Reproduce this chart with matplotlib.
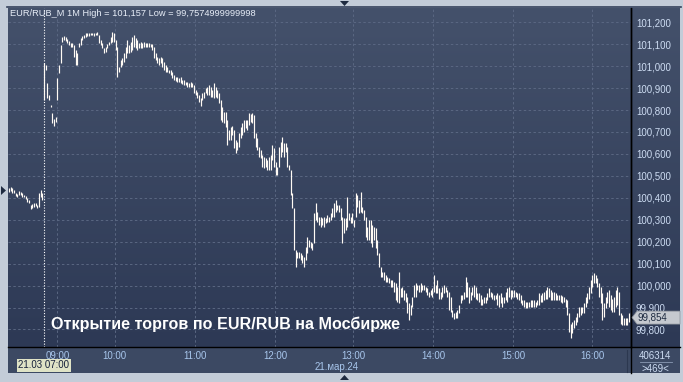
import numpy as np
import matplotlib
matplotlib.use('Agg')
import matplotlib.pyplot as plt
from matplotlib.patches import Polygon, Rectangle
from matplotlib.colors import LinearSegmentedColormap

# ===== DATA (1-minute bars, high / low) =====
high = [
    100.443, 100.451, 100.443, 100.435, 100.420, 100.417, 100.432, 100.428, 100.420, 100.413,
    100.408, 100.397, 100.390, 100.367, 100.372, 100.375, 100.378, 100.367, 100.420, 100.435,
    100.420, 101.013, 101.005, 100.922, 100.869, 100.823, 100.785, 100.758, 100.770, 100.945,
    101.005, 101.097, 101.135, 101.138, 101.135, 101.122, 101.116, 101.104, 101.104, 101.097,
    101.074, 101.059, 101.104, 101.127, 101.138, 101.142, 101.150, 101.150, 101.150, 101.150,
    101.153, 101.150, 101.153, 101.157, 101.142, 101.119, 101.104, 101.081, 101.089, 101.101,
    101.112, 101.135, 101.157, 101.150, 101.119, 101.089, 100.998, 101.028, 101.036, 101.059,
    101.089, 101.119, 101.097, 101.112, 101.135, 101.142, 101.127, 101.119, 101.104, 101.112,
    101.104, 101.112, 101.104, 101.104, 101.104, 101.101, 101.101, 101.089, 101.059, 101.043,
    101.036, 101.043, 101.036, 101.021, 101.005, 100.998, 100.983, 100.983, 100.975, 100.960,
    100.952, 100.952, 100.945, 100.952, 100.937, 100.937, 100.929, 100.929, 100.922, 100.929,
    100.925, 100.914, 100.891, 100.884, 100.869, 100.853, 100.876, 100.884, 100.899, 100.907,
    100.914, 100.907, 100.891, 100.922, 100.907, 100.891,
    100.876, 100.846, 100.815, 100.793, 100.793, 100.755, 100.709, 100.724, 100.727, 100.709,
    100.663, 100.656, 100.694, 100.724, 100.739, 100.755, 100.755, 100.755, 100.785, 100.782,
    100.785, 100.777, 100.694, 100.671, 100.633, 100.618, 100.595, 100.587, 100.580, 100.572,
    100.587, 100.595, 100.641, 100.625, 100.565, 100.542, 100.633, 100.656, 100.679, 100.651,
    100.648, 100.633, 100.549, 100.527, 100.420, 100.352, 100.162, 100.154, 100.154, 100.147,
    100.139, 100.131, 100.177, 100.223, 100.207, 100.200, 100.192, 100.329, 100.375, 100.337,
    100.314, 100.314, 100.306, 100.314, 100.306, 100.321, 100.314, 100.329, 100.352, 100.375,
    100.390, 100.367, 100.367, 100.352, 100.314, 100.306, 100.306, 100.405, 100.329, 100.314,
    100.329, 100.299, 100.420, 100.413, 100.390, 100.428, 100.359, 100.344, 100.314, 100.268,
    100.299, 100.299, 100.276, 100.268, 100.261, 100.207, 100.147, 100.086, 100.063, 100.063,
    100.048, 100.040, 100.033, 100.025, 100.025, 100.017, 100.010, 99.995, 100.063, 99.987,
    99.995, 99.979, 99.964, 99.949, 99.919, 99.911, 99.949, 100.002, 100.010, 100.002,
    100.002,
    100.010, 100.002, 100.002, 99.995, 99.987, 99.972, 99.979, 99.987, 100.048, 100.002,
    100.025, 99.987, 99.972, 99.995, 100.002, 99.995, 99.979, 99.972, 99.949, 99.888,
    99.873, 99.881, 99.888, 99.911, 99.957, 99.957, 99.972, 100.040, 100.017, 99.995,
    99.972, 99.995, 100.002, 99.995, 99.964, 99.964, 99.957, 99.941, 99.949, 99.949,
    99.964, 99.987, 99.972, 99.964, 99.957, 99.957, 99.964, 99.957, 99.964, 99.949,
    99.949, 99.972, 99.987, 99.995, 99.979, 99.979, 99.979, 99.972, 99.964, 99.964,
    99.957, 99.934, 99.934, 99.926, 99.926, 99.926, 99.934, 99.934, 99.934, 99.926,
    99.934, 99.964, 99.957, 99.964, 99.972, 99.979, 99.995, 99.987, 99.979, 99.972,
    99.972, 99.964, 99.957, 99.957, 99.957, 99.952, 99.949, 99.941, 99.934, 99.873,
    99.827, 99.835, 99.843, 99.858, 99.873, 99.903, 99.903, 99.903, 99.919, 99.949,
    99.964, 99.995, 100.025, 100.048, 100.055, 100.048, 100.033, 100.010, 99.995, 99.964,
    99.919, 99.949, 99.972, 99.979, 99.957, 99.941, 99.949, 99.979, 99.995, 99.972,
    99.873, 99.865, 99.850, 99.850, 99.850, 99.873, 99.881,
]
low = [
    100.428, 100.432, 100.423, 100.420, 100.408, 100.405, 100.413, 100.413, 100.405, 100.402,
    100.396, 100.382, 100.375, 100.350, 100.352, 100.359, 100.363, 100.352, 100.359, 100.405,
    100.390, 100.846, 100.983, 100.853, 100.846, 100.812, 100.739, 100.727, 100.747, 100.846,
    100.967, 101.013, 101.112, 101.119, 101.116, 101.104, 101.097, 101.089, 101.089, 101.043,
    101.005, 101.005, 101.089, 101.097, 101.119, 101.127, 101.135, 101.138, 101.138, 101.141,
    101.141, 101.138, 101.142, 101.142, 101.104, 101.097, 101.081, 101.059, 101.066, 101.081,
    101.097, 101.104, 101.112, 101.112, 101.074, 100.952, 100.975, 100.998, 101.005, 101.021,
    101.036, 101.059, 101.059, 101.066, 101.074, 101.089, 101.081, 101.074, 101.081, 101.081,
    101.081, 101.089, 101.089, 101.089, 101.089, 101.089, 101.074, 101.036, 101.028, 101.013,
    101.005, 101.013, 100.998, 100.983, 100.975, 100.975, 100.967, 100.960, 100.945, 100.937,
    100.934, 100.929, 100.929, 100.922, 100.919, 100.914, 100.914, 100.907, 100.907, 100.907,
    100.907, 100.876, 100.869, 100.853, 100.838, 100.818, 100.846, 100.853, 100.876, 100.869,
    100.869, 100.861, 100.861, 100.853, 100.861, 100.853,
    100.831, 100.755, 100.747, 100.739, 100.724, 100.641, 100.663, 100.663, 100.686, 100.625,
    100.603, 100.618, 100.633, 100.671, 100.686, 100.701, 100.717, 100.709, 100.732, 100.747,
    100.739, 100.671, 100.633, 100.618, 100.587, 100.580, 100.542, 100.534, 100.542, 100.527,
    100.527, 100.527, 100.572, 100.542, 100.504, 100.504, 100.542, 100.587, 100.610, 100.587,
    100.610, 100.542, 100.527, 100.413, 100.352, 100.162, 100.086, 100.124, 100.124, 100.116,
    100.101, 100.083, 100.116, 100.147, 100.177, 100.169, 100.162, 100.192, 100.299, 100.291,
    100.276, 100.268, 100.276, 100.268, 100.283, 100.291, 100.291, 100.299, 100.314, 100.314,
    100.337, 100.344, 100.337, 100.299, 100.192, 100.238, 100.253, 100.268, 100.299, 100.283,
    100.283, 100.268, 100.314, 100.359, 100.329, 100.337, 100.329, 100.299, 100.223, 100.207,
    100.207, 100.192, 100.177, 100.207, 100.169, 100.139, 100.086, 100.040, 100.040, 100.025,
    100.017, 100.017, 100.010, 99.995, 99.995, 99.972, 99.934, 99.926, 99.919, 99.949,
    99.949, 99.934, 99.926, 99.873, 99.843, 99.865, 99.903, 99.949, 99.949, 99.979,
    99.972,
    99.972, 99.979, 99.979, 99.972, 99.957, 99.949, 99.957, 99.949, 99.972, 99.964,
    99.964, 99.941, 99.941, 99.949, 99.964, 99.972, 99.949, 99.888, 99.881, 99.858,
    99.846, 99.850, 99.850, 99.873, 99.919, 99.934, 99.941, 99.949, 99.949, 99.919,
    99.934, 99.957, 99.949, 99.941, 99.934, 99.926, 99.911, 99.911, 99.919, 99.919,
    99.934, 99.949, 99.949, 99.941, 99.934, 99.941, 99.911, 99.903, 99.919, 99.903,
    99.919, 99.934, 99.926, 99.949, 99.941, 99.949, 99.949, 99.949, 99.941, 99.934,
    99.919, 99.911, 99.903, 99.896, 99.896, 99.903, 99.903, 99.903, 99.903, 99.903,
    99.911, 99.911, 99.926, 99.926, 99.934, 99.941, 99.941, 99.949, 99.934, 99.934,
    99.934, 99.934, 99.934, 99.934, 99.926, 99.919, 99.926, 99.903, 99.865, 99.789,
    99.759, 99.782, 99.805, 99.820, 99.835, 99.858, 99.865, 99.873, 99.873, 99.903,
    99.919, 99.941, 99.964, 99.995, 100.010, 100.010, 99.995, 99.949, 99.919, 99.843,
    99.858, 99.896, 99.919, 99.903, 99.888, 99.881, 99.881, 99.903, 99.911, 99.865,
    99.827, 99.820, 99.820, 99.820, 99.820, 99.835, 99.843,
]
last_price = 99.854
open_bar = 21  # 21.03 07:00

tick_pos = [29.0, 63.4, 111.4, 159.6, 206.6, 254.6, 302.6, 350.0]
tick_labels = ['09:00', '10:00', '11:00', '12:00', '13:00', '14:00', '15:00', '16:00']
y_ticks = [99.8, 99.9, 100.0, 100.1, 100.2, 100.3, 100.4, 100.5, 100.6,
           100.7, 100.8, 100.9, 101.0, 101.1, 101.2]

title = 'EUR/RUB_M 1M High = 101,157 Low = 99,7574999999998'
caption = 'Открытие торгов по EUR/RUB на Мосбирже'

# ===== FIGURE =====
W, H = 683, 382
fig = plt.figure(figsize=(W / 100, H / 100), dpi=100)
fig.patch.set_facecolor('#c3ccd8')
plt.rcParams['font.family'] = ['Liberation Sans', 'DejaVu Sans']


def fx(x):
    return x / W


def fy(y):
    return 1 - y / H


# dark chart frame with vertical gradient
bg = fig.add_axes([fx(8), fy(347), fx(680) - fx(8), fy(8) - fy(347)])
bg.set_zorder(-5)
grad = np.linspace(0, 1, 256).reshape(-1, 1)
cmap = LinearSegmentedColormap.from_list('bg', ['#2d3955', '#44516b'])
bg.imshow(grad, aspect='auto', cmap=cmap, origin='lower', extent=[0, 1, 0, 1])
bg.axis('off')

# bottom time strip
fig.patches.append(Rectangle((fx(8), fy(373)), fx(680) - fx(8), fy(347) - fy(373),
                             transform=fig.transFigure, facecolor='#3c4963', edgecolor='none', zorder=-4))

ax = fig.add_axes([fx(8), fy(347), fx(631) - fx(8), fy(8) - fy(347)])
ax.set_facecolor('none')
x = np.arange(len(high))
ax.vlines(x, low, high, colors='#fffaf4', linewidth=0.85, zorder=3)

ax.set_xlim(-0.6, 373.2)
ax.set_ylim(99.72, 101.265)

ax.set_yticks(y_ticks)
ax.set_yticklabels([f'{v:.3f}'.replace('.', ',') for v in y_ticks])
ax.yaxis.tick_right()
ax.tick_params(axis='y', length=0, pad=3.5, labelsize=7.0, labelcolor='#cddcf2')
ax.set_xticks(tick_pos)
ax.set_xticklabels(tick_labels)
ax.tick_params(axis='x', length=0, pad=3, labelsize=7.0, labelcolor='#a8c6ec')
ax.grid(True, color='#5a6782', linestyle=(0, (2.5, 2.5)), linewidth=0.7, zorder=1)
for s in ['top', 'left']:
    ax.spines[s].set_visible(False)
ax.spines['right'].set_color('black')
ax.spines['right'].set_linewidth(1.0)
ax.spines['bottom'].set_color('black')
ax.spines['bottom'].set_linewidth(1.0)

# session open marker
ax.axvline(open_bar, color='white', linestyle=(0, (1, 1.5)), linewidth=0.8, zorder=2)

# caption
ax.text(0.069, 0.066, caption, transform=ax.transAxes, color='white', fontsize=11.6,
        fontweight='bold', ha='left', va='center', zorder=5)

# title
fig.text(fx(10), fy(14), title, color='#e8eef8', fontsize=6.7, ha='left', va='center')

# frame lines
fig.add_artist(plt.Line2D([fx(631), fx(631)], [fy(8), fy(373)], color='black', lw=1.0))
fig.add_artist(plt.Line2D([fx(631), fx(680)], [fy(347), fy(347)], color='black', lw=1.0))
fig.add_artist(plt.Line2D([fx(7), fx(681)], [fy(7), fy(7)], color='#33405a', lw=1.2))
fig.add_artist(plt.Line2D([fx(627), fx(627)], [fy(350), fy(372)], color='#2c3850', lw=0.8))

# last price label
py = fy(347) + (last_price - 99.72) / (101.265 - 99.72) * (fy(8) - fy(347))
fig.patches.append(Polygon([(fx(632), py), (fx(637), py + 6.5 / H), (fx(680), py + 6.5 / H),
                            (fx(680), py - 6.5 / H), (fx(637), py - 6.5 / H)],
                           closed=True, transform=fig.transFigure, facecolor='#c5c9cf',
                           edgecolor='#8a9099', lw=0.5, zorder=5))
fig.text(fx(637), py, f'{last_price:.3f}'.replace('.', ','), color='#1d2a40', fontsize=7.0,
         ha='left', va='center', zorder=6)

# open time label
fig.patches.append(Rectangle((fx(17), fy(372)), fx(71) - fx(17), fy(359) - fy(372),
                             transform=fig.transFigure, facecolor='#dfe3c6', edgecolor='none', zorder=5))
fig.text(fx(44), fy(365.5), '21.03 07:00', color='#15203a', fontsize=7.0, ha='center', va='center', zorder=6)

# date label
fig.text(fx(337), fy(367), '21.мар.24', color='#a8c6ec', fontsize=7.0, ha='center', va='center')

# volume / bars info
fig.text(fx(655), fy(356), '406314', color='#cddcf2', fontsize=7.0, ha='center', va='center')
fig.add_artist(plt.Line2D([fx(640), fx(672)], [fy(362), fy(362)], color='#8a9ab4', lw=0.6))
fig.text(fx(655), fy(368.5), '>469<', color='#cddcf2', fontsize=7.0, ha='center', va='center')

# small navigation triangles
fig.patches.append(Polygon([(fx(340), fy(1)), (fx(349), fy(1)), (fx(344.5), fy(6))], closed=True,
                           transform=fig.transFigure, facecolor='#1e2a40', edgecolor='none'))
fig.patches.append(Polygon([(fx(340), fy(380)), (fx(349), fy(380)), (fx(344.5), fy(375))], closed=True,
                           transform=fig.transFigure, facecolor='#1e2a40', edgecolor='none'))
fig.patches.append(Polygon([(fx(1), fy(186)), (fx(1), fy(195)), (fx(6), fy(190.5))], closed=True,
                           transform=fig.transFigure, facecolor='#1e2a40', edgecolor='none'))

plt.savefig('out.png', dpi=100, facecolor=fig.get_facecolor())
